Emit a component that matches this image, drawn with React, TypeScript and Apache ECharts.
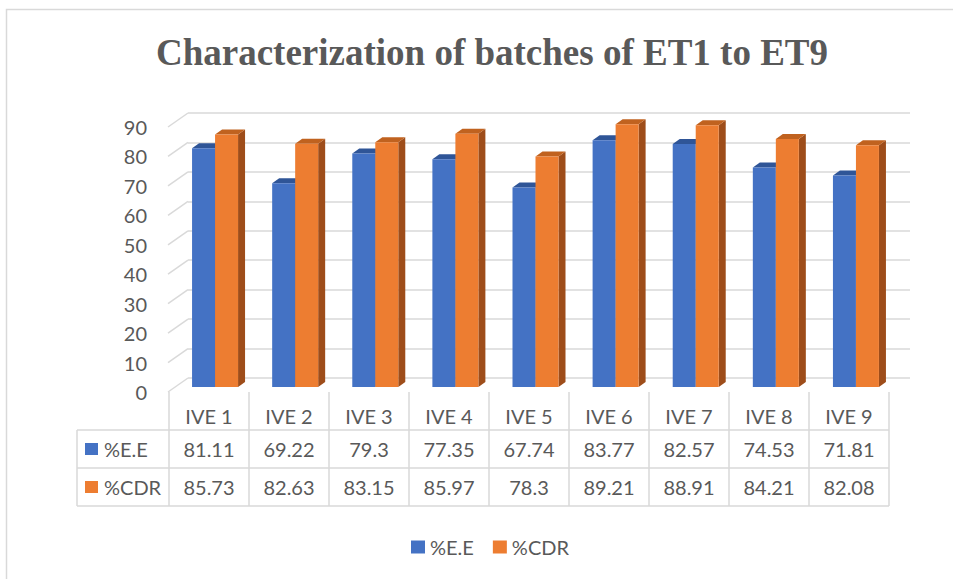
import React, { useEffect, useRef } from "react";
import * as echarts from "echarts";

const titleText = "Characterization of batches of ET1 to ET9";
const categories = ["IVE 1", "IVE 2", "IVE 3", "IVE 4", "IVE 5", "IVE 6", "IVE 7", "IVE 8", "IVE 9"];
const seriesNames = ["%E.E", "%CDR"];
const eeValues = [81.11, 69.22, 79.3, 77.35, 67.74, 83.77, 82.57, 74.53, 71.81];
const cdrValues = [85.73, 82.63, 83.15, 85.97, 78.3, 89.21, 88.91, 84.21, 82.08];
const yTicks = [0, 10, 20, 30, 40, 50, 60, 70, 80, 90];

const TEXT = "#595959";
const LINE = "#d9d9d9";
const FONT = "Lato";

export default function App() {
  const ref = useRef<HTMLDivElement>(null);
  useEffect(() => {
    if (!ref.current) return;
    const chart = echarts.init(ref.current, null, { renderer: "svg" });

    const BAR_W = 23;
    const DX = 7;
    const DY = 5;
    const makeBar = (name: string, values: number[], colors: string[], shift: number) => ({
      type: "custom",
      name,
      xAxisIndex: 4,
      yAxisIndex: 2,
      itemStyle: { color: colors[0] },
      data: values.map((v, i) => [i, v]),
      encode: { x: 0, y: 1 },
      z: 5,
      renderItem: (params: any, api: any) => {
        const cat = api.value(0);
        const val = api.value(1);
        const top = api.coord([cat, val]);
        const base = api.coord([cat, 0]);
        const x0 = top[0] + shift * BAR_W;
        const x1 = x0 + BAR_W;
        return {
          type: "group",
          children: [
            {
              type: "polygon",
              shape: { points: [[x1, top[1]], [x1 + DX, top[1] - DY], [x1 + DX, base[1] - DY], [x1, base[1]]] },
              style: { fill: colors[2] },
            },
            {
              type: "polygon",
              shape: { points: [[x0, top[1]], [x1, top[1]], [x1 + DX, top[1] - DY], [x0 + DX, top[1] - DY]] },
              style: { fill: colors[1] },
            },
            {
              type: "rect",
              shape: { x: x0, y: top[1], width: BAR_W, height: base[1] - top[1] },
              style: { fill: colors[0] },
            },
          ],
        };
      },
    });

    const tableLines: any[] = [430, 468, 506].map((y) => ({
      type: "line",
      shape: { x1: 77, y1: y, x2: 889, y2: y },
      style: { stroke: LINE, lineWidth: 1.5 },
      silent: true,
    }));
    tableLines.push({
      type: "line",
      shape: { x1: 77, y1: 430, x2: 77, y2: 506 },
      style: { stroke: LINE, lineWidth: 1.5 },
      silent: true,
    });
    const keyColors = ["#4472C4", "#ED7D31"];
    const keyRows = [449, 487];
    const keys: any[] = [];
    seriesNames.forEach((n, i) => {
      keys.push({
        type: "rect",
        shape: { x: 85, y: keyRows[i] - 6, width: 13, height: 12 },
        style: { fill: keyColors[i] },
      });
      keys.push({
        type: "text",
        x: 104,
        y: keyRows[i],
        style: { text: n, fill: TEXT, font: `20px ${FONT}`, textVerticalAlign: "middle" },
      });
    });

    chart.setOption({
      animation: false,
      backgroundColor: "#ffffff",
      title: {
        text: titleText,
        left: 487,
        textAlign: "center",
        top: 29,
        textStyle: { fontFamily: "Liberation Serif", fontWeight: "bold", fontSize: 37, color: TEXT },
      },
      legend: {
        data: seriesNames,
        left: 406,
        top: 532,
        icon: "rect",
        itemWidth: 14,
        itemHeight: 13,
        itemGap: 19,
        textStyle: { fontFamily: FONT, fontSize: 20, color: TEXT },
      },
      graphic: [
        {
          type: "rect",
          shape: { x: 6.5, y: 9.5, width: 1000, height: 1000 },
          style: { fill: "none", stroke: LINE, lineWidth: 1.5 },
          z: -10,
          silent: true,
        },
        ...tableLines,
        ...keys,
      ],
      grid: [
        { left: 188, top: 113, width: 722, height: 265 },
        { left: 169, top: 127, width: 720, height: 265 },
        { left: 175, top: 122, width: 721, height: 265 },
      ],
      xAxis: [
        { type: "category", gridIndex: 0, data: categories, show: false },
        {
          type: "category",
          gridIndex: 1,
          data: categories,
          position: "bottom",
          axisLine: { show: false },
          axisTick: { show: true, length: 114, lineStyle: { color: LINE, width: 1.5 } },
          axisLabel: { margin: 24, verticalAlign: "middle", fontFamily: FONT, fontSize: 20, color: TEXT },
        },
        {
          type: "category",
          gridIndex: 1,
          data: eeValues.map((v) => String(v)),
          position: "bottom",
          axisLine: { show: false },
          axisTick: { show: false },
          axisLabel: { margin: 57, verticalAlign: "middle", fontFamily: FONT, fontSize: 20, color: TEXT, interval: 0 },
        },
        {
          type: "category",
          gridIndex: 1,
          data: cdrValues.map((v) => String(v)),
          position: "bottom",
          axisLine: { show: false },
          axisTick: { show: false },
          axisLabel: { margin: 95, verticalAlign: "middle", fontFamily: FONT, fontSize: 20, color: TEXT, interval: 0 },
        },
        { type: "category", gridIndex: 2, data: categories, show: false },
      ],
      yAxis: [
        {
          type: "value",
          gridIndex: 0,
          min: 0,
          max: 90,
          interval: 10,
          axisLine: { show: false },
          axisTick: { show: false },
          axisLabel: { show: false },
          splitLine: { show: true, lineStyle: { color: LINE, width: 1.5 } },
        },
        {
          type: "value",
          gridIndex: 1,
          min: 0,
          max: 90,
          interval: 10,
          axisLine: { show: false },
          axisTick: { show: false },
          splitLine: { show: false },
          axisLabel: { margin: 22, fontFamily: FONT, fontSize: 20, color: TEXT },
        },
        { type: "value", gridIndex: 2, min: 0, max: 90, interval: 10, show: false, splitLine: { show: false } },
      ],
      series: [
        {
          type: "custom",
          name: "walls",
          xAxisIndex: 0,
          yAxisIndex: 0,
          data: yTicks.map((v) => [0, v]),
          encode: { x: 0, y: 1 },
          silent: true,
          z: 1,
          renderItem: (params: any, api: any) => {
            const p = api.coord([0, api.value(1)]);
            const left = params.coordSys.x;
            return {
              type: "line",
              shape: { x1: left - 20, y1: p[1] + 14, x2: left, y2: p[1] },
              style: { stroke: LINE, lineWidth: 1.5 },
            };
          },
        },
        makeBar(seriesNames[0], eeValues, ["#4472C4", "#2F5597", "#2F5597"], -1),
        makeBar(seriesNames[1], cdrValues, ["#ED7D31", "#C0621F", "#9E4D1A"], 0),
      ],
    });
    return () => chart.dispose();
  }, []);
  return <div ref={ref} style={{ position: "fixed", left: 0, top: 0, width: 953, height: 579 }} />;
}
